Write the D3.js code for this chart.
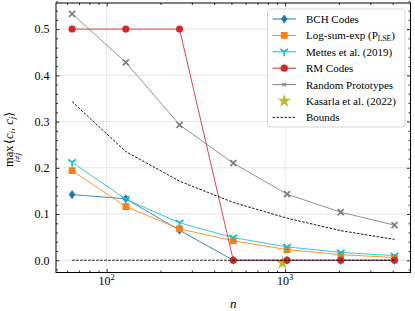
<!DOCTYPE html>
<html>
<head>
<meta charset="utf-8">
<script src="https://cdn.jsdelivr.net/npm/d3@7"></script>
<style>
  body { margin: 0; background: #fff; }
  svg text { font-family: "Liberation Serif", "DejaVu Serif", serif; fill: #000; }
</style>
</head>
<body>
<div id="chart"></div>
<script>
/* DATA */
const nValues = [64, 128, 256, 512, 1024, 2048, 4096];
const bchCodes = [0.142, 0.133, 0.065, 0.0, 0.0, 0.0, 0.0];
const logSumExp = [0.194, 0.116, 0.068, 0.042, 0.023, 0.012, 0.006];
const mettes = [0.212, 0.132, 0.081, 0.049, 0.029, 0.017, 0.010];
const rmCodes = [0.5, 0.5, 0.5, 0.0, 0.0, 0.0, 0.0];
const randomProto = [0.533, 0.428, 0.293, 0.210, 0.143, 0.104, 0.076];
const kasarlaN = [965];
const kasarla = [-0.006];
const upperBound = [0.343, 0.235, 0.171, 0.125, 0.091, 0.064, 0.045];
const lowerBound = [0, 0, 0, 0, 0, 0, 0];
const yTicks = [0.0, 0.1, 0.2, 0.3, 0.4, 0.5];
const xTicks = [100, 1000];

/* LAYOUT */
const W = 415, H = 311;
const margin = {top: 3, right: 4.5, bottom: 38.5, left: 56};
const plotW = W - margin.left - margin.right,
      plotH = H - margin.top - margin.bottom;

const svg = d3.select("#chart").append("svg")
  .attr("width", W).attr("height", H);

const g = svg.append("g")
  .attr("transform", `translate(${margin.left},${margin.top})`);

// scales
const x = d3.scaleLog().domain([52, 5036]).range([0, plotW]);
const y = d3.scaleLinear().domain([-0.0265, 0.5565]).range([plotH, 0]);

// grid
g.append("g").selectAll("line").data(yTicks).join("line")
  .attr("x1", 0).attr("x2", plotW)
  .attr("y1", d => y(d)).attr("y2", d => y(d))
  .attr("stroke", "#e6e6e6").attr("stroke-width", 1);
g.append("g").selectAll("line").data(xTicks).join("line")
  .attr("y1", 0).attr("y2", plotH)
  .attr("x1", d => x(d)).attr("x2", d => x(d))
  .attr("stroke", "#e6e6e6").attr("stroke-width", 1);

// minor tick values
const xMinor = [];
[10, 100, 1000].forEach(b => { for (let k = 2; k <= 9; k++) xMinor.push(b * k); });
const xMinorIn = xMinor.filter(v => v >= 52 && v <= 5036 && v !== 100 && v !== 1000);
const yMinor = d3.range(-0.02, 0.56, 0.02).filter(v => Math.abs(Math.round(v * 10) - v * 10) > 0.01);

function styleAxis(sel) {
  sel.select(".domain").remove();
  sel.selectAll(".tick line").attr("stroke", "#000").attr("stroke-width", 0.8);
}

// major + minor ticks, inward, on all four sides
g.append("g").attr("transform", `translate(0,${plotH})`)
  .call(d3.axisBottom(x).tickValues(xTicks).tickSize(-3.5).tickFormat(""))
  .call(styleAxis);
g.append("g").attr("transform", `translate(0,${plotH})`)
  .call(d3.axisBottom(x).tickValues(xMinorIn).tickSize(-2).tickFormat(""))
  .call(styleAxis);
g.append("g")
  .call(d3.axisTop(x).tickValues(xTicks).tickSize(-3.5).tickFormat(""))
  .call(styleAxis);
g.append("g")
  .call(d3.axisTop(x).tickValues(xMinorIn).tickSize(-2).tickFormat(""))
  .call(styleAxis);

g.append("g")
  .call(d3.axisLeft(y).tickValues(yTicks).tickSize(-3.5).tickPadding(6.5).tickFormat(d3.format(".1f")))
  .call(styleAxis)
  .call(a => a.selectAll("text").attr("font-size", 12).style("font-family", "Liberation Serif"));
g.append("g")
  .call(d3.axisLeft(y).tickValues(yMinor).tickSize(-2).tickFormat(""))
  .call(styleAxis);
g.append("g").attr("transform", `translate(${plotW},0)`)
  .call(d3.axisRight(y).tickValues(yTicks).tickSize(-3.5).tickFormat(""))
  .call(styleAxis);
g.append("g").attr("transform", `translate(${plotW},0)`)
  .call(d3.axisRight(y).tickValues(yMinor).tickSize(-2).tickFormat(""))
  .call(styleAxis);

// x tick labels 10^k
const xl = g.append("g").selectAll("text").data(xTicks).join("text")
  .attr("x", d => x(d)).attr("y", plotH + 12.5)
  .attr("text-anchor", "middle").attr("font-size", 12);
xl.append("tspan").text("10");
xl.append("tspan").attr("dy", -5).attr("font-size", 8.5).text(d => Math.round(Math.log10(d)));

// frame
g.append("rect").attr("width", plotW).attr("height", plotH)
  .attr("fill", "none").attr("stroke", "#000").attr("stroke-width", 1);

/* SERIES */
const line = d3.line().x(d => x(d[0])).y(d => y(d[1]));
const zip = (xs, ys) => xs.map((v, i) => [v, ys[i]]);

const series = [
  {name: "BCH Codes", vals: bchCodes, color: "#1f77b4", marker: "diamond"},
  {name: "Log-sum-exp", vals: logSumExp, color: "#ff7f0e", marker: "square"},
  {name: "Mettes", vals: mettes, color: "#17becf", marker: "tri"},
  {name: "RM Codes", vals: rmCodes, color: "#d62728", marker: "circle"},
  {name: "Random", vals: randomProto, color: "#7f7f7f", marker: "x"}
];

function drawMarker(sel, type, color) {
  if (type === "diamond") {
    sel.append("path").attr("d", "M0,-4.6L3.3,0L0,4.6L-3.3,0Z").attr("fill", color);
  } else if (type === "square") {
    sel.append("rect").attr("x", -3.4).attr("y", -3.4).attr("width", 6.8).attr("height", 6.8).attr("fill", color);
  } else if (type === "circle") {
    sel.append("circle").attr("r", 3.6).attr("fill", color);
  } else if (type === "tri") {
    sel.append("path").attr("d", "M0,0L0,4.5M0,0L-3.9,-2.8M0,0L3.9,-2.8")
      .attr("stroke", color).attr("stroke-width", 1.7).attr("fill", "none");
  } else if (type === "x") {
    sel.append("path").attr("d", "M-3,-3L3,3M-3,3L3,-3")
      .attr("stroke", color).attr("stroke-width", 1.8).attr("fill", "none");
  } else if (type === "star") {
    sel.append("path").attr("d", d3.symbol(d3.symbolStar, 55)()).attr("fill", color);
  }
}

// Kasarla et al. (2022), sits just behind the RM point at n = 1024
g.append("g").selectAll("g").data(zip(kasarlaN, kasarla)).join("g")
  .attr("transform", d => `translate(${x(d[0])},${y(d[1])})`)
  .each(function () { drawMarker(d3.select(this), "star", "#bcbd22"); });

series.forEach(s => {
  const pts = zip(nValues, s.vals);
  g.append("path").datum(pts).attr("d", line)
    .attr("fill", "none").attr("stroke", s.color).attr("stroke-width", 1)
    .attr("stroke-opacity", 0.85);
  g.append("g").selectAll("g").data(pts).join("g")
    .attr("transform", d => `translate(${x(d[0])},${y(d[1])})`)
    .each(function () { drawMarker(d3.select(this), s.marker, s.color); });
});

// bounds
[upperBound, lowerBound].forEach(b => {
  g.append("path").datum(zip(nValues, b)).attr("d", line)
    .attr("fill", "none").attr("stroke", "#000").attr("stroke-width", 0.9)
    .attr("stroke-dasharray", "2.6,1.4");
});

/* LEGEND */
const leg = svg.append("g").attr("transform", "translate(267.5,9)");
leg.append("rect").attr("width", 137.5).attr("height", 118).attr("rx", 2.5)
  .attr("fill", "#fff").attr("fill-opacity", 0.85).attr("stroke", "#cccccc").attr("stroke-width", 0.8);

const legItems = [
  {label: "BCH Codes", color: "#1f77b4", marker: "diamond", line: true},
  {label: "Log-sum-exp", color: "#ff7f0e", marker: "square", line: true, lse: true},
  {label: "Mettes et al. (2019)", color: "#17becf", marker: "tri", line: true},
  {label: "RM Codes", color: "#d62728", marker: "circle", line: true},
  {label: "Random Prototypes", color: "#7f7f7f", marker: "x", line: true, small: true},
  {label: "Kasarla et al. (2022)", color: "#bcbd22", marker: "star", line: false},
  {label: "Bounds", color: "#000", marker: null, line: true, dash: true}
];

legItems.forEach((it, i) => {
  const row = leg.append("g").attr("transform", `translate(0,${10 + i * 16.4})`);
  if (it.line) {
    row.append("line").attr("x1", 5).attr("x2", 28.5)
      .attr("stroke", it.color).attr("stroke-width", it.dash ? 0.9 : 1)
      .attr("stroke-dasharray", it.dash ? "2.6,1.4" : null);
  }
  if (it.marker) {
    const m = row.append("g").attr("transform", `translate(16.75,0)${it.small ? " scale(0.6)" : ""}`);
    drawMarker(m, it.marker, it.color);
  }
  const t = row.append("text").attr("x", 38.5).attr("y", 4).attr("font-size", 11);
  t.append("tspan").text(it.label);
  if (it.lse) {
    t.append("tspan").text(" (P");
    t.append("tspan").attr("font-size", 7.5).attr("dy", 1.8).text("LSE");
    t.append("tspan").attr("dy", -1.8).text(")");
  }
});

/* AXIS LABELS */
svg.append("text").attr("x", margin.left + plotW / 2).attr("y", 307.5)
  .attr("text-anchor", "middle").attr("font-size", 13).attr("font-style", "italic").text("n");

const yl = svg.append("g").attr("transform", "translate(13,134) rotate(-90)");
yl.append("text").attr("x", -33).attr("y", 0).attr("font-size", 12.5).text("max");
yl.append("text").attr("x", -23.5).attr("y", 7).attr("font-size", 8.5)
  .attr("text-anchor", "middle").attr("font-style", "italic").text("i≠j");
const br = yl.append("text").attr("x", -10).attr("y", 0).attr("font-size", 12.5);
br.append("tspan").text("⟨");
br.append("tspan").attr("font-style", "italic").text("c");
br.append("tspan").attr("font-style", "italic").attr("font-size", 9).attr("dy", 2.2).text("i");
br.append("tspan").attr("dy", -2.2).text(", ");
br.append("tspan").attr("font-style", "italic").text("c");
br.append("tspan").attr("font-style", "italic").attr("font-size", 9).attr("dy", 2.2).text("j");
br.append("tspan").attr("dy", -2.2).text("⟩");
</script>
</body>
</html>
